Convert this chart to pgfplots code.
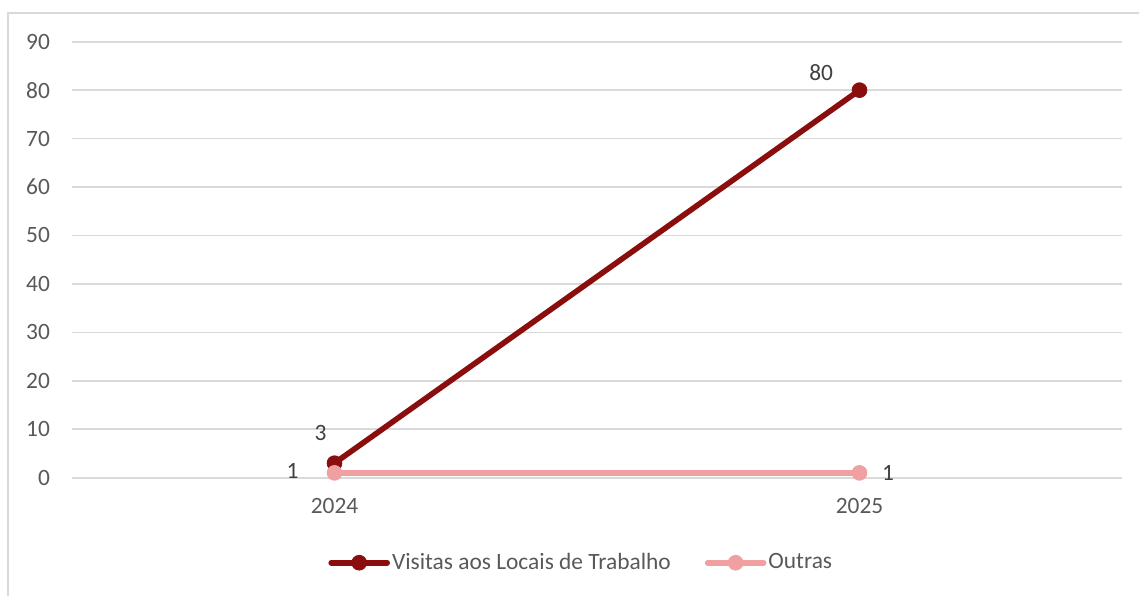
\documentclass[border=0pt]{standalone}
\usepackage{pgfplots}
\pgfplotsset{compat=1.18}
\usepackage{fontspec}
\setmainfont{Carlito}
\definecolor{darkred}{HTML}{8B0E0E}
\definecolor{pinkline}{HTML}{F0A0A0}
\definecolor{gridgray}{HTML}{D9D9D9}
\definecolor{ticktext}{HTML}{595959}
\definecolor{labtext}{HTML}{404040}
\newcommand{\cfont}{\fontsize{11.7}{14}\selectfont}
\begin{document}
\begin{tikzpicture}
\begin{axis}[
  at={(0,0)}, anchor=south west,
  scale only axis,
  width=525pt, height=218pt,
  xmin=-0.5, xmax=1.5,
  ymin=0, ymax=90,
  xtick={0,1}, xticklabels={2024,2025},
  ytick={0,10,...,90},
  major tick length=0pt,
  axis line style={draw=none},
  ymajorgrids,
  grid style={gridgray, line width=0.8pt},
  tick label style={font=\cfont, text=ticktext},
  /pgf/number format/assume math mode=true,
  yticklabel style={xshift=-7.5pt},
  xticklabel style={yshift=-7pt},
  legend columns=2,
  legend style={draw=none, fill=none, font=\cfont, text=ticktext,
    at={(0.4850,-0.1950)}, anchor=center,
    /tikz/every even column/.append style={column sep=16pt},
    inner sep=0pt, nodes={inner xsep=1pt}},
  legend image code/.code={\draw[mark repeat=2,mark phase=2,#1] plot coordinates {(0pt,0pt) (14pt,0pt) (28pt,0pt)};},
  clip=false,
  nodes near coords,
  point meta=explicit,
  visualization depends on={value \thisrow{dx} \as \dx},
  visualization depends on={value \thisrow{dy} \as \dy},
  nodes near coords style={font=\cfont, text=labtext, anchor=center, xshift=\dx pt, yshift=\dy pt},
]
\addplot[darkred, line width=2.8pt, line cap=round, mark=*, mark size=3.7pt, mark options={solid, line width=0.4pt}]
  table[x=x, y=y, meta=y] {
x y dx dy
0 3 -7 15.2
1 80 -19.2 8.7
};
\addlegendentry{Visitas aos Locais de Trabalho}
\addplot[pinkline, line width=2.8pt, line cap=round, mark=*, mark size=3.7pt, mark options={solid, line width=0.4pt}]
  table[x=x, y=y, meta=y] {
x y dx dy
0 1 -21 0.8
1 1 14.3 0
};
\addlegendentry{Outras}
\end{axis}
\draw[gridgray, line width=0.75pt] (-32pt,-70pt) -- (-32pt,232.35pt) -- (560pt,232.35pt);
\pgfresetboundingbox
\path[use as bounding box] (-36pt,-58.65pt) rectangle (533.5pt,238.85pt);
\end{tikzpicture}
\end{document}
